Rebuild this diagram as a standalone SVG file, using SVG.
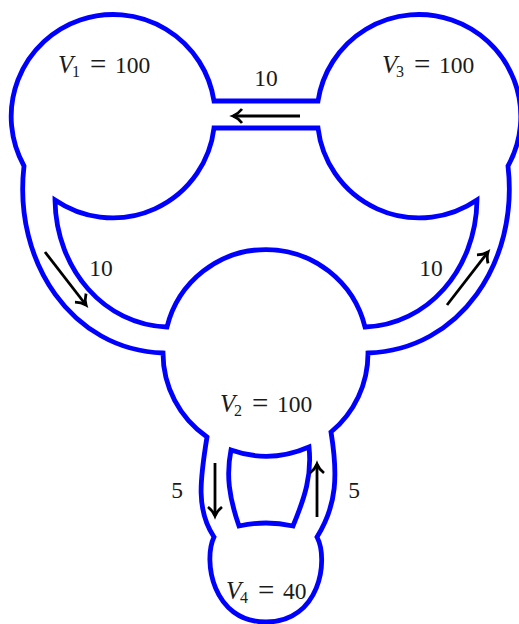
<svg xmlns="http://www.w3.org/2000/svg" width="519" height="624" viewBox="0 0 519 624">
<style>
.w{fill:none;stroke:#0000ff;stroke-width:4.8;stroke-linejoin:miter}
.a{fill:none;stroke:#000;stroke-width:2.8}
text{font-family:"Liberation Serif",serif;font-size:23.5px;fill:#1a1a1a}
.i{font-style:italic;font-size:25px}
.s{font-size:16px}
.e{font-size:29px}
</style>
<defs><marker id="h" markerUnits="userSpaceOnUse" markerWidth="20" markerHeight="20" refX="14" refY="10" orient="auto"><path d="M5 3 Q9 8 14 10 Q9 12 5 17" fill="none" stroke="#000" stroke-width="2.8"/></marker></defs>
<g id="walls">
<path id="outer" class="w" d="M214 101 A102 102 0 1 0 24 166 C13 262 72 350 163 353 A102 102 0 0 0 207 437 C200 480 196 510 214 537 C203 560 212 622 266 622 C320 622 329 560 317 537 C337 505 338 475 331 432 A102 102 0 0 0 368 353 C460 350 519 262 508 166 A102 102 0 1 0 318 101 Z"/>
<path id="inner" class="w" d="M214 128 A102 102 0 0 1 55 200 C56 270 105 325 167 327 A102 102 0 0 1 365 327 C427 325 476 270 477 200 A102 102 0 0 1 318 128 Z"/>
<path id="island" class="w" d="M231 450 Q270 464 309 447 C312 475 305 497 293 526 Q266 520 239 526 C229 497 226 475 231 450 Z"/>
</g>
<g id="connectors">
<path class="a" marker-end="url(#h)" d="M300 116H233"/>
<path class="a" marker-end="url(#h)" d="M45 252L86 305"/>
<path class="a" marker-end="url(#h)" d="M447 305L488 252"/>
<path class="a" marker-end="url(#h)" d="M215 463V516"/>
<path class="a" marker-end="url(#h)" d="M317 517V464"/>
</g>
<g id="labels">
<text y="73"><tspan class="i" x="58">V</tspan><tspan class="s" x="72" dy="4">1</tspan><tspan class="e" x="90" dy="-3">=</tspan><tspan x="115" dy="-1">100</tspan></text>
<text y="73"><tspan class="i" x="382">V</tspan><tspan class="s" x="396" dy="4">3</tspan><tspan class="e" x="414" dy="-3">=</tspan><tspan x="439" dy="-1">100</tspan></text>
<text y="412"><tspan class="i" x="220">V</tspan><tspan class="s" x="234" dy="4">2</tspan><tspan class="e" x="252" dy="-3">=</tspan><tspan x="277" dy="-1">100</tspan></text>
<text y="599"><tspan class="i" x="226">V</tspan><tspan class="s" x="240" dy="4">4</tspan><tspan class="e" x="258" dy="-3">=</tspan><tspan x="283" dy="-1">40</tspan></text>
<text x="266" y="86" text-anchor="middle">10</text>
<text x="101" y="276" text-anchor="middle">10</text>
<text x="431" y="276" text-anchor="middle">10</text>
<text x="177" y="498" text-anchor="middle">5</text>
<text x="354" y="498" text-anchor="middle">5</text>
</g>
</svg>
